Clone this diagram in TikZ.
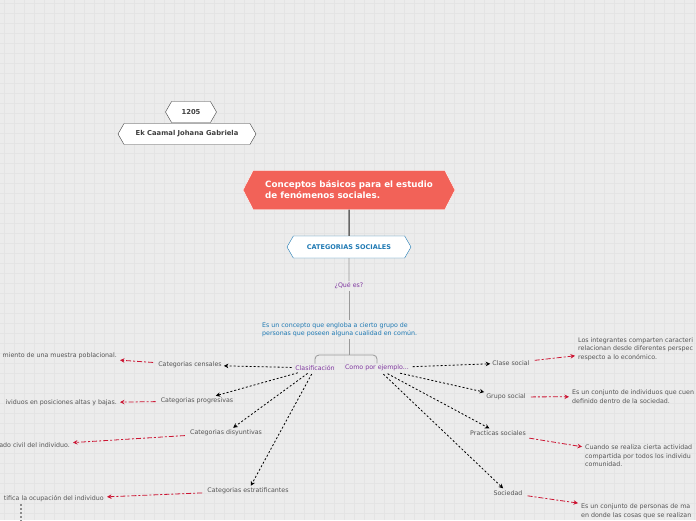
\documentclass[tikz,border=0pt]{standalone}
\usepackage{fontspec}
\setmainfont{DejaVu Sans}
\usetikzlibrary{arrows.meta,shapes.symbols}
\definecolor{bgcol}{RGB}{236,236,236}
\definecolor{gridcol}{RGB}{228,228,228}
\definecolor{maincol}{RGB}{242,98,88}
\definecolor{bluecol}{RGB}{31,122,180}
\definecolor{purplecol}{RGB}{128,57,160}
\definecolor{txtcol}{RGB}{85,85,85}
\definecolor{redcol}{RGB}{204,20,50}
\begin{document}
\begin{tikzpicture}[x=1pt,y=-1pt,
    hexbox/.style={signal, signal to=west and east, signal pointer angle=120,
        draw=black!75, fill=white, inner sep=0pt, minimum height=21,
        text=black!75, font=\fontsize{6.8}{8}\selectfont\bfseries},
    mainbox/.style={signal, signal to=west and east, signal pointer angle=125,
        draw=white, fill=maincol, inner sep=0pt, minimum height=39, minimum width=212,
        text=white, align=left, font=\fontsize{8.7}{11}\selectfont\bfseries},
    catbox/.style={signal, signal to=west and east, signal pointer angle=120,
        draw=bluecol, fill=white, inner sep=0pt, minimum height=22, minimum width=124,
        text=bluecol, font=\fontsize{6.5}{8}\selectfont\bfseries},
    plain/.style={inner sep=2pt, text=txtcol, align=left, font=\fontsize{6.3}{8.4}\selectfont},
    purple/.style={plain, inner sep=1.5pt, text=purplecol},
    bluetext/.style={plain, text=bluecol},
    link/.style={draw=black!40, line width=0.8pt},
    toitem/.style={draw=black, line width=0.8pt, dash pattern=on 2pt off 2pt,
        -{Stealth[length=4.5pt,width=4.5pt]}, shorten <=2pt},
    todesc/.style={draw=redcol, line width=0.8pt, dash pattern=on 5pt off 2pt on 2pt off 2pt,
        -{Stealth[length=4.5pt,width=4.5pt]}, shorten <=3pt, shorten >=1pt}]
    \useasboundingbox (0,0) rectangle (696,520);
    \clip (0,0) rectangle (696,520);
    % background and grid
    \fill[bgcol] (0,0) rectangle (696,520);
    \foreach \x in {4,14,...,694} \draw[gridcol, line width=0.8pt] (\x,0) -- (\x,520);
    \foreach \y in {3,13,...,513} \draw[gridcol, line width=0.8pt] (0,\y) -- (696,\y);
    % author
    \node[hexbox, minimum width=51] (code) at (191,112) {1205};
    \node[hexbox, minimum width=138] (name) at (187,134) {Ek Caamal Johana Gabriela};
    % central topic
    \node[mainbox] (main) at (349,190) {Conceptos básicos para el estudio\\de fenómenos sociales.};
    \node[catbox] (cat) at (349,247) {CATEGORIAS SOCIALES};
    \draw[draw=black!60, line width=1.5pt] (main) -- (cat);
    \node[purple] (que) at (349,286) {¿Qué es?};
    \draw[link] (cat) -- (que);
    \node[bluetext, anchor=west] (def) at (260,329.5) {Es un concepto que engloba a cierto grupo de\\personas que poseen alguna cualidad en común.};
    \draw[link] (que) -- (que |- def.north);
    % fork
    \node[purple] (clasif) at (315,368) {Clasificación};
    \node[purple] (ejemplo) at (377,368) {Como por ejemplo...};
    \coordinate (fork) at (349,355);
    \draw[link] (fork |- def.south) -- (fork);
    \draw[link, rounded corners=4pt] (clasif.north) |- (fork) -| (ejemplo.north);
    % left branch
    \node[plain] (censales) at (190,365) {Categorias censales};
    \node[plain] (progresivas) at (197,401) {Categorias progresivas};
    \node[plain] (disyuntivas) at (226,433) {Categorias disyuntivas};
    \node[plain] (estratif) at (248,491) {Categorias estratificantes};
    \draw[toitem] (clasif) -- (censales);
    \draw[toitem] (clasif) -- (progresivas);
    \draw[toitem] (clasif) -- (disyuntivas);
    \draw[toitem] (clasif) -- (estratif);
    \node[plain, anchor=east] (dcensales) at (119,356) {miento de una muestra poblacional.};
    \node[plain, anchor=east] (dprogresivas) at (119,403) {ividuos en posiciones altas y bajas.};
    \node[plain, anchor=east] (ddisyuntivas) at (72,445) {ado civil del individuo.};
    \node[plain, anchor=east] (destratif) at (106,499) {tifica la ocupación del individuo};
    \draw[todesc] (censales) -- (dcensales);
    \draw[todesc] (progresivas) -- (dprogresivas);
    \draw[todesc] (disyuntivas) -- (ddisyuntivas);
    \draw[todesc] (estratif) -- (destratif);
    \coordinate (below) at (21,522);
    \draw[draw=black!45, line width=1.5pt, dash pattern=on 2pt off 2pt] (below |- destratif.south) -- (below);
    % right branch
    \node[plain] (clase) at (511,363) {Clase social};
    \node[plain] (grupo) at (506,397) {Grupo social};
    \node[plain] (practicas) at (498,433) {Practicas sociales};
    \node[plain] (sociedad) at (508,493) {Sociedad};
    \draw[toitem] (ejemplo) -- (clase);
    \draw[toitem] (ejemplo) -- (grupo);
    \draw[toitem] (ejemplo) -- (practicas);
    \draw[toitem] (ejemplo) -- (sociedad);
    \node[plain, anchor=west] (dclase) at (576,349) {Los integrantes comparten caracteri\\relacionan desde diferentes perspec\\respecto a lo económico.};
    \node[plain, anchor=west] (dgrupo) at (570,396.5) {Es un conjunto de individuos que cuen\\definido dentro de la sociedad.};
    \node[plain, anchor=west] (dpracticas) at (583,456) {Cuando se realiza cierta actividad\\compartida por todos los individu\\comunidad.};
    \node[plain, anchor=north west] (dsociedad) at (579,502) {Es un conjunto de personas de ma\\en donde las cosas que se realizan};
    \draw[todesc] (clase) -- (dclase);
    \draw[todesc] (grupo) -- (dgrupo);
    \draw[todesc] (practicas) -- (dpracticas);
    \draw[todesc] (sociedad) -- (dsociedad);
\end{tikzpicture}
\end{document}
